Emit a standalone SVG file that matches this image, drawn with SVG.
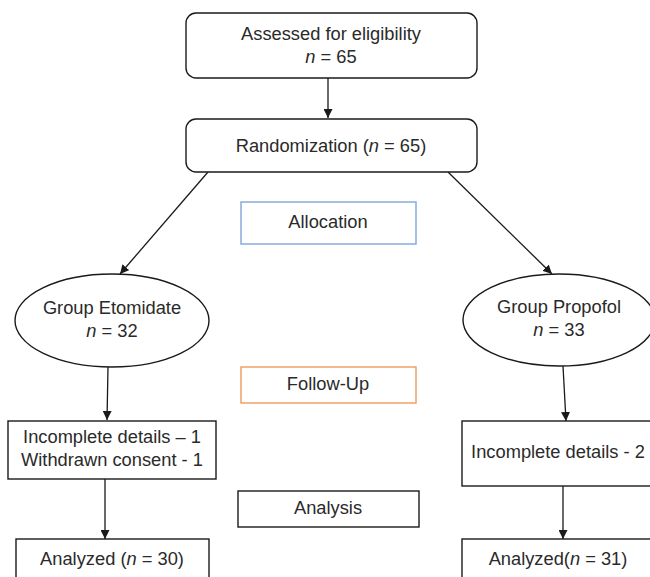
<svg xmlns="http://www.w3.org/2000/svg" width="650" height="577" viewBox="0 0 650 577">
<defs>
<style>
.box{fill:#fff;stroke:#1a1a1a;stroke-width:1.4}
.t{font-family:"Liberation Sans",Arial,sans-serif;font-size:18.3px;fill:#2a2a2a;text-anchor:middle}
.i{font-style:italic}
.c{stroke:#1a1a1a;stroke-width:1.3;fill:none;marker-end:url(#ah)}
</style>
<marker id="ah" viewBox="0 0 10 10" refX="10" refY="5" markerWidth="9" markerHeight="9" markerUnits="userSpaceOnUse" orient="auto">
<path d="M0,0 L10,5 L0,10 z" fill="#1a1a1a"/>
</marker>
</defs>
<rect width="650" height="577" fill="#fff"/>
<g id="connectors">
<line class="c" x1="328" y1="78" x2="328" y2="118"/>
<line class="c" x1="208" y1="172" x2="120" y2="274"/>
<line class="c" x1="448" y1="172" x2="552" y2="274"/>
<line class="c" x1="108" y1="367" x2="107" y2="420"/>
<line class="c" x1="563" y1="366" x2="566" y2="421"/>
<line class="c" x1="105" y1="479" x2="105" y2="539"/>
<line class="c" x1="563" y1="486" x2="563" y2="539"/>
</g>
<g id="assessed">
<rect class="box" x="186" y="13" width="291" height="65" rx="10"/>
<text class="t" x="331" y="40">Assessed for eligibility</text>
<text class="t" x="331" y="63"><tspan class="i">n</tspan> = 65</text>
</g>
<g id="randomization">
<rect class="box" x="186" y="119" width="291" height="53" rx="10"/>
<text class="t" x="331" y="152">Randomization (<tspan class="i">n</tspan> = 65)</text>
</g>
<g id="allocation">
<rect x="241" y="202" width="175" height="42" fill="#fff" stroke="#7ea6da" stroke-width="1.4"/>
<text class="t" x="328" y="228">Allocation</text>
</g>
<g id="etomidate">
<ellipse class="box" cx="112" cy="320.5" rx="97" ry="46.5"/>
<text class="t" x="112" y="314">Group Etomidate</text>
<text class="t" x="112" y="337"><tspan class="i">n</tspan> = 32</text>
</g>
<g id="propofol">
<ellipse class="box" cx="559" cy="320" rx="96" ry="46"/>
<text class="t" x="559" y="313">Group Propofol</text>
<text class="t" x="559" y="336"><tspan class="i">n</tspan> = 33</text>
</g>
<g id="followup">
<rect x="241" y="367" width="175" height="36" fill="#fff" stroke="#ee9a5c" stroke-width="1.4"/>
<text class="t" x="328" y="390">Follow-Up</text>
</g>
<g id="incomplete-left">
<rect class="box" x="8" y="421" width="208" height="58"/>
<text class="t" x="112" y="443">Incomplete details – 1</text>
<text class="t" x="112" y="466">Withdrawn consent - 1</text>
</g>
<g id="incomplete-right">
<rect class="box" x="462" y="421" width="195" height="65"/>
<text class="t" x="558" y="458">Incomplete details - 2</text>
</g>
<g id="analysis">
<rect class="box" x="238" y="491" width="181" height="36"/>
<text class="t" x="328" y="514">Analysis</text>
</g>
<g id="analyzed-left">
<rect class="box" x="16" y="539" width="193" height="50"/>
<text class="t" x="112" y="565">Analyzed (<tspan class="i">n</tspan> = 30)</text>
</g>
<g id="analyzed-right">
<rect class="box" x="462" y="539" width="195" height="50"/>
<text class="t" x="558" y="565">Analyzed(<tspan class="i">n</tspan> = 31)</text>
</g>
</svg>
